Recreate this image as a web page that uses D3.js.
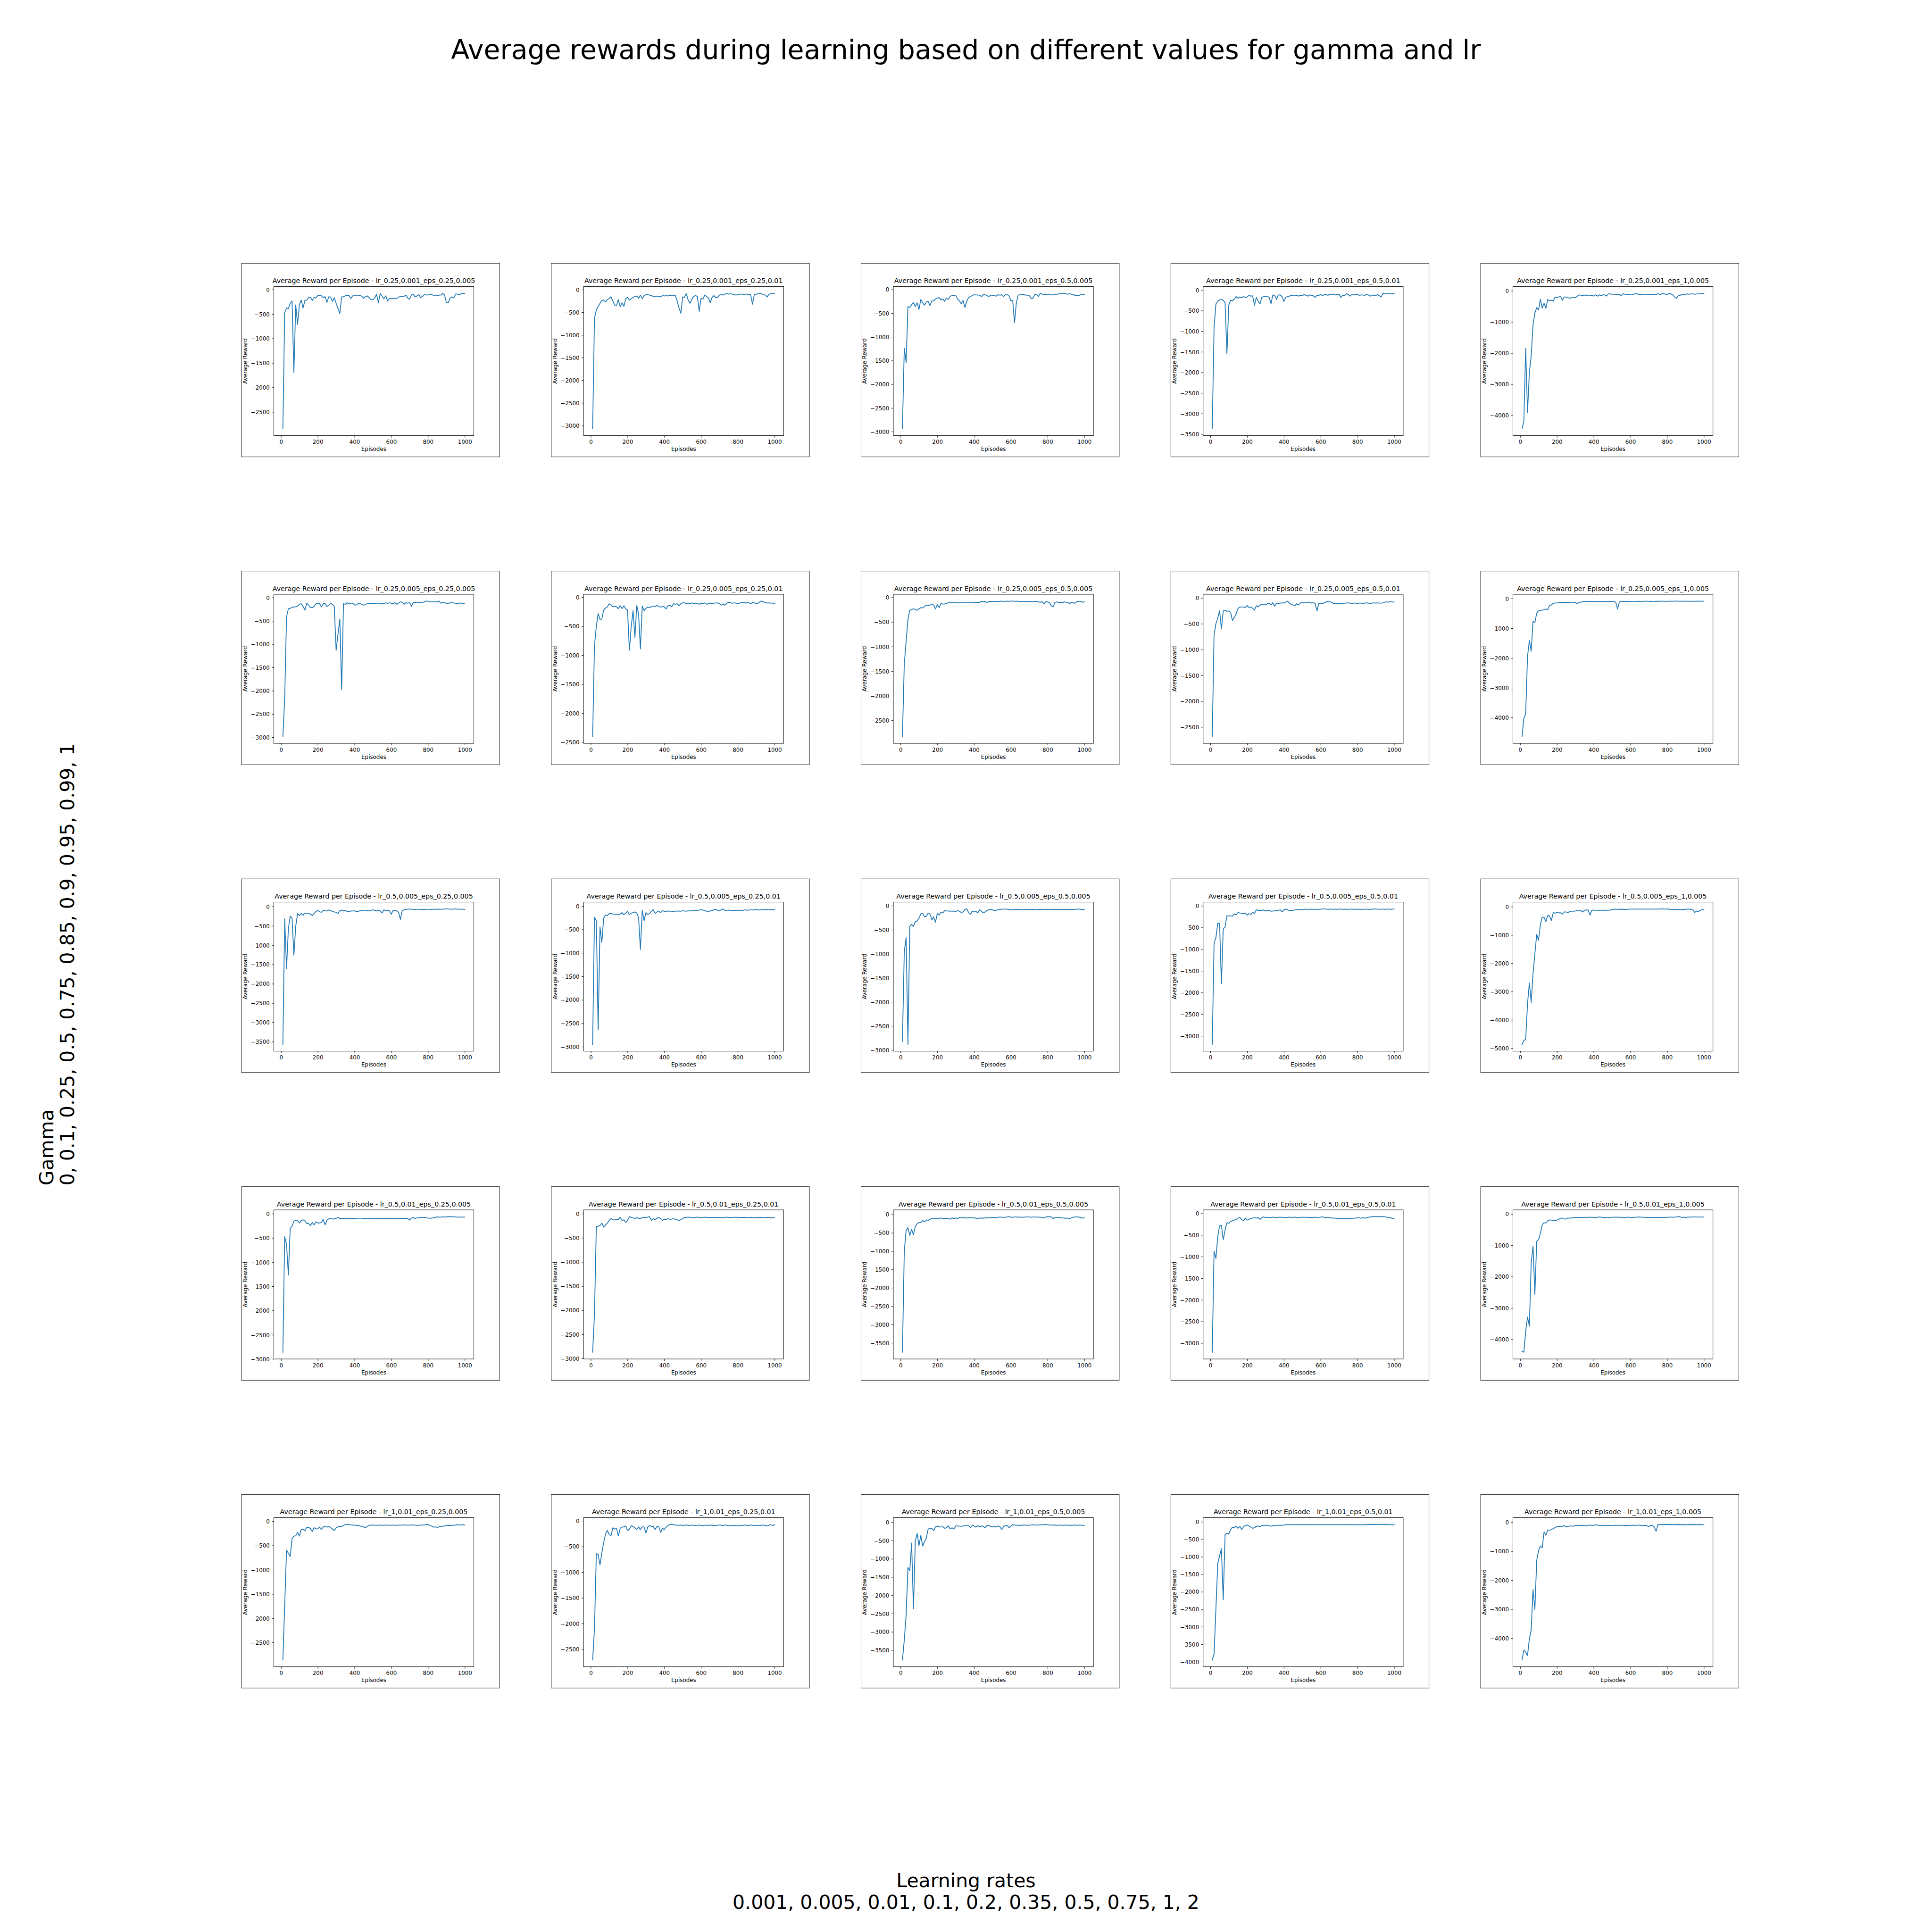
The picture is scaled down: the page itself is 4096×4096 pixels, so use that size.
<!DOCTYPE html>
<html><head><meta charset="utf-8">
<script src="https://cdn.jsdelivr.net/npm/d3@7"></script>
<style>html,body{margin:0;padding:0;background:#fff}svg{display:block}</style>
</head><body>
<svg id="chart" width="4096" height="4096"></svg>
<script>
// ---------- data ----------
const episodes = [10,20,30,40,50,60,70,80,90,100,110,120,130,140,150,160,170,180,190,200,
 210,220,230,240,250,260,270,280,290,300,310,320,330,340,350,360,370,380,390,400,
 410,420,430,440,450,460,470,480,490,500,510,520,530,540,550,560,570,580,590,600,
 610,620,630,640,650,660,670,680,690,700,710,720,730,740,750,760,770,780,790,800,
 810,820,830,840,850,860,870,880,890,900,910,920,930,940,950,960,970,980,990,1000];
const xTickValues = [0,200,400,600,800,1000];
const rowLr = ["0.25,0.001","0.25,0.005","0.5,0.005","0.5,0.01","1,0.01"];
const colEps = ["0.25,0.005","0.25,0.01","0.5,0.005","0.5,0.01","1,0.005"];
const yTickSteps = [[500,500,500,500,1000],[500,500,500,500,1000],[500,500,500,500,1000],[500,500,500,500,1000],[500,500,500,500,1000]];
const suptitle = "Average rewards during learning based on different values for gamma and lr";
const yLabelLines = ["Gamma","0, 0.1, 0.25, 0.5, 0.75, 0.85, 0.9, 0.95, 0.99, 1"];
const xLabelLines = ["Learning rates","0.001, 0.005, 0.01, 0.1, 0.2, 0.35, 0.5, 0.75, 1, 2"];

const rw00 = [-2845,-471,-377,-390,-280,-233,-1694,-312,-712,-306,
 -215,-377,-222,-215,-157,-157,-222,-162,-170,-123,
 -123,-128,-167,-144,-262,-147,-154,-241,-167,-280,
 -385,-490,-149,-149,-128,-115,-123,-181,-128,-128,
 -115,-115,-123,-136,-181,-136,-131,-167,-207,-207,
 -170,-97,-267,-79,-136,-188,-128,-233,-183,-188,
 -188,-175,-181,-154,-141,-136,-136,-115,-175,-196,
 -110,-97,-154,-128,-105,-162,-144,-102,-110,-110,
 -102,-102,-118,-113,-118,-115,-110,-76,-110,-267,
 -272,-175,-149,-170,-92,-92,-113,-84,-79,-84];
const rw01 = [-3070,-620,-450,-370,-300,-240,-230,-270,-220,-190,
 -160,-250,-340,-350,-220,-380,-290,-370,-200,-170,
 -230,-200,-170,-150,-140,-190,-120,-200,-130,-110,
 -110,-120,-130,-150,-160,-140,-150,-160,-130,-140,
 -130,-140,-120,-130,-120,-130,-250,-400,-520,-160,
 -170,-90,-230,-300,-210,-150,-130,-150,-480,-190,
 -210,-120,-150,-180,-290,-170,-130,-180,-170,-120,
 -110,-120,-100,-80,-100,-90,-100,-110,-120,-110,
 -100,-100,-110,-100,-100,-110,-110,-320,-110,-100,
 -90,-80,-90,-110,-120,-160,-100,-90,-80,-80];
const rw02 = [-2940,-1240,-1540,-360,-380,-320,-280,-360,-280,-420,
 -210,-280,-330,-260,-250,-340,-240,-240,-200,-180,
 -170,-220,-200,-250,-180,-210,-140,-130,-120,-120,
 -200,-240,-300,-230,-380,-250,-170,-150,-130,-110,
 -115,-115,-120,-150,-110,-110,-130,-150,-120,-120,
 -130,-140,-110,-120,-110,-150,-110,-110,-130,-240,
 -230,-700,-280,-120,-110,-110,-100,-120,-120,-120,
 -190,-190,-110,-100,-150,-80,-100,-100,-110,-110,
 -110,-115,-110,-100,-100,-90,-90,-80,-80,-90,
 -100,-90,-100,-100,-130,-130,-130,-110,-110,-110];
const rw03 = [-3370,-920,-340,-280,-240,-230,-250,-310,-1550,-370,
 -250,-260,-220,-160,-200,-170,-190,-160,-180,-170,
 -130,-150,-140,-370,-180,-270,-340,-180,-160,-150,
 -160,-180,-330,-120,-130,-230,-120,-120,-160,-280,
 -180,-160,-150,-130,-140,-140,-130,-150,-130,-140,
 -110,-130,-150,-120,-130,-140,-180,-130,-130,-110,
 -140,-110,-110,-130,-100,-110,-100,-120,-110,-100,
 -180,-130,-140,-90,-110,-150,-110,-120,-110,-100,
 -130,-120,-120,-130,-110,-120,-150,-120,-130,-140,
 -110,-140,-170,-80,-100,-80,-80,-80,-80,-90];
const rw04 = [-4430,-4180,-1850,-3910,-2620,-2100,-1090,-710,-540,-610,
 -270,-560,-400,-560,-280,-320,-300,-330,-200,-230,
 -200,-170,-300,-200,-200,-220,-240,-220,-220,-220,
 -180,-130,-140,-150,-140,-140,-160,-160,-150,-170,
 -130,-170,-130,-160,-130,-130,-170,-100,-100,-110,
 -110,-110,-120,-110,-160,-90,-110,-120,-120,-110,
 -110,-110,-80,-110,-120,-120,-110,-110,-110,-120,
 -120,-120,-120,-130,-90,-120,-100,-90,-110,-130,
 -80,-100,-130,-200,-240,-160,-150,-110,-130,-110,
 -100,-110,-100,-100,-110,-100,-100,-100,-90,-90];
const rw10 = [-2985,-2165,-410,-240,-230,-215,-200,-200,-180,-145,
 -130,-190,-270,-120,-160,-215,-215,-190,-130,-120,
 -130,-200,-130,-130,-190,-165,-120,-145,-190,-1130,
 -790,-460,-1970,-130,-145,-110,-140,-120,-120,-160,
 -160,-130,-130,-145,-165,-145,-130,-125,-130,-125,
 -130,-120,-120,-140,-120,-130,-110,-125,-110,-125,
 -130,-110,-145,-120,-90,-100,-145,-110,-120,-105,
 -190,-100,-105,-110,-105,-110,-105,-90,-75,-75,
 -95,-90,-90,-95,-85,-75,-120,-105,-110,-120,
 -130,-110,-110,-115,-120,-125,-120,-115,-125,-120];
const rw11 = [-2405,-830,-500,-280,-380,-375,-220,-185,-165,-110,
 -135,-165,-155,-165,-195,-145,-195,-145,-200,-220,
 -915,-500,-230,-695,-140,-290,-890,-150,-230,-190,
 -170,-180,-160,-150,-160,-140,-160,-170,-160,-165,
 -200,-145,-135,-165,-110,-120,-110,-145,-110,-95,
 -90,-110,-100,-110,-95,-110,-100,-105,-120,-100,
 -110,-95,-120,-110,-100,-110,-100,-100,-95,-110,
 -135,-115,-135,-100,-90,-90,-105,-95,-100,-110,
 -100,-90,-85,-100,-90,-95,-110,-90,-95,-110,
 -100,-80,-65,-80,-90,-100,-95,-100,-100,-110];
const rw12 = [-2830,-1350,-900,-445,-260,-250,-230,-250,-260,-230,
 -210,-215,-185,-155,-170,-155,-145,-155,-235,-145,
 -210,-120,-135,-135,-120,-110,-110,-110,-110,-110,
 -115,-105,-100,-100,-100,-100,-100,-100,-100,-100,
 -105,-100,-105,-80,-90,-80,-105,-85,-80,-85,
 -80,-80,-85,-80,-75,-80,-80,-75,-80,-75,
 -75,-80,-75,-80,-85,-80,-80,-85,-90,-80,
 -85,-90,-85,-80,-90,-100,-85,-130,-90,-90,
 -105,-170,-195,-105,-90,-105,-100,-115,-90,-100,
 -100,-130,-100,-115,-115,-85,-80,-80,-100,-90];
const rw13 = [-2685,-715,-500,-390,-250,-600,-250,-235,-260,-250,
 -275,-435,-375,-310,-205,-175,-175,-175,-185,-145,
 -185,-175,-200,-235,-150,-175,-135,-125,-125,-135,
 -110,-100,-135,-90,-160,-100,-105,-100,-95,-100,
 -80,-60,-100,-125,-135,-150,-110,-135,-95,-90,
 -95,-90,-95,-80,-100,-90,-110,-250,-110,-100,
 -110,-90,-75,-70,-75,-80,-110,-100,-105,-105,
 -100,-105,-100,-100,-95,-100,-105,-100,-100,-105,
 -100,-100,-105,-100,-95,-100,-105,-100,-95,-100,
 -95,-100,-100,-95,-80,-75,-80,-70,-80,-75];
const rw14 = [-4640,-4020,-3880,-1950,-1410,-1770,-760,-810,-490,-410,
 -400,-390,-380,-350,-380,-230,-215,-160,-150,-150,
 -140,-130,-130,-130,-135,-130,-130,-125,-125,-130,
 -170,-130,-120,-110,-100,-100,-95,-100,-105,-100,
 -100,-100,-105,-100,-100,-100,-105,-100,-95,-100,
 -100,-120,-350,-120,-100,-95,-100,-95,-100,-95,
 -95,-95,-95,-95,-90,-95,-95,-90,-90,-95,
 -90,-95,-95,-90,-95,-85,-90,-90,-95,-90,
 -90,-90,-90,-85,-85,-90,-90,-90,-90,-90,
 -90,-90,-95,-90,-90,-90,-85,-90,-90,-90];
const rw20 = [-3570,-320,-1610,-570,-250,-300,-1260,-510,-185,-235,
 -175,-225,-165,-185,-185,-190,-235,-185,-125,-100,
 -135,-150,-100,-110,-115,-90,-100,-135,-140,-150,
 -185,-110,-90,-110,-100,-125,-135,-115,-115,-110,
 -135,-125,-110,-100,-110,-115,-100,-115,-100,-85,
 -100,-115,-100,-115,-165,-85,-110,-100,-110,-200,
 -100,-105,-110,-150,-335,-100,-85,-75,-65,-65,
 -70,-70,-75,-70,-70,-75,-75,-70,-75,-70,
 -70,-75,-70,-70,-65,-70,-70,-65,-65,-60,
 -65,-65,-70,-65,-60,-65,-70,-70,-70,-75];
const rw21 = [-2950,-240,-310,-2640,-445,-775,-260,-190,-205,-160,
 -160,-170,-170,-180,-185,-170,-140,-185,-150,-110,
 -185,-150,-140,-125,-150,-240,-925,-95,-310,-140,
 -185,-160,-110,-80,-160,-125,-115,-140,-100,-110,
 -115,-105,-110,-110,-115,-105,-110,-105,-110,-100,
 -105,-110,-100,-105,-100,-95,-100,-95,-85,-80,
 -85,-95,-110,-115,-105,-95,-80,-70,-90,-105,
 -80,-60,-95,-90,-85,-95,-100,-90,-100,-95,
 -85,-95,-90,-80,-90,-85,-80,-85,-75,-80,
 -80,-85,-80,-75,-80,-75,-80,-80,-75,-80];
const rw22 = [-2820,-950,-665,-2885,-430,-385,-430,-330,-315,-260,
 -170,-155,-230,-220,-155,-170,-295,-230,-345,-155,
 -195,-135,-150,-100,-110,-110,-115,-110,-115,-120,
 -100,-115,-140,-130,-75,-65,-140,-180,-110,-130,
 -115,-150,-85,-115,-150,-130,-100,-85,-80,-85,
 -100,-95,-85,-80,-70,-70,-70,-70,-80,-80,
 -85,-80,-75,-80,-80,-85,-80,-80,-75,-80,
 -80,-75,-85,-80,-80,-75,-80,-75,-75,-80,
 -75,-75,-80,-75,-80,-80,-75,-80,-75,-80,
 -80,-75,-80,-75,-75,-70,-70,-75,-80,-75];
const rw23 = [-3195,-870,-735,-400,-410,-1795,-530,-490,-230,-230,
 -230,-240,-185,-210,-155,-165,-170,-180,-165,-215,
 -180,-200,-150,-180,-90,-105,-105,-110,-95,-120,
 -105,-105,-125,-120,-120,-105,-110,-90,-140,-90,
 -75,-95,-110,-110,-105,-95,-90,-90,-80,-80,
 -80,-75,-80,-80,-75,-80,-80,-75,-80,-75,
 -75,-70,-75,-80,-75,-75,-80,-75,-80,-75,
 -75,-80,-75,-80,-80,-75,-75,-80,-75,-80,
 -75,-80,-80,-75,-75,-80,-75,-80,-70,-75,
 -75,-80,-75,-75,-80,-75,-75,-80,-75,-75];
const rw24 = [-4865,-4725,-4690,-3435,-2695,-3380,-2350,-1665,-980,-1185,
 -640,-365,-375,-525,-310,-320,-490,-205,-230,-195,
 -215,-215,-260,-185,-185,-215,-160,-160,-160,-150,
 -135,-150,-135,-185,-125,-115,-115,-295,-125,-115,
 -125,-125,-120,-125,-125,-120,-125,-120,-120,-105,
 -105,-80,-90,-90,-90,-90,-90,-105,-85,-85,
 -85,-85,-85,-85,-85,-85,-85,-85,-85,-85,
 -85,-85,-85,-80,-85,-80,-75,-80,-85,-80,
 -85,-90,-95,-100,-95,-100,-100,-105,-95,-90,
 -85,-85,-90,-100,-205,-150,-170,-125,-110,-105];
const rw30 = [-2860,-475,-630,-1265,-300,-260,-150,-140,-145,-190,
 -140,-125,-145,-200,-200,-245,-180,-230,-165,-190,
 -190,-180,-115,-230,-130,-105,-100,-110,-100,-95,
 -75,-100,-95,-100,-100,-95,-100,-100,-95,-100,
 -100,-105,-105,-105,-100,-100,-100,-100,-100,-100,
 -100,-100,-100,-100,-100,-95,-100,-100,-95,-100,
 -100,-100,-95,-100,-100,-100,-95,-95,-100,-130,
 -90,-75,-100,-85,-85,-75,-80,-75,-85,-90,
 -95,-90,-85,-75,-65,-70,-70,-65,-70,-65,
 -60,-60,-65,-65,-65,-70,-70,-70,-70,-70];
const rw31 = [-2870,-2075,-260,-260,-245,-195,-275,-235,-195,-140,
 -100,-125,-125,-115,-115,-75,-140,-125,-180,-140,
 -60,-75,-85,-100,-75,-100,-100,-80,-75,-80,
 -70,-60,-140,-100,-125,-95,-75,-100,-140,-115,
 -125,-100,-115,-110,-100,-115,-125,-140,-125,-100,
 -75,-75,-70,-75,-85,-80,-75,-70,-75,-80,
 -75,-70,-75,-80,-75,-80,-75,-80,-80,-75,
 -75,-80,-75,-70,-75,-80,-75,-75,-70,-75,
 -80,-75,-80,-75,-80,-85,-75,-80,-85,-80,
 -80,-75,-80,-85,-80,-75,-80,-85,-80,-85];
const rw32 = [-3755,-1005,-435,-360,-570,-410,-550,-325,-255,-220,
 -220,-165,-200,-150,-160,-130,-115,-115,-115,-115,
 -105,-95,-115,-115,-105,-115,-130,-95,-115,-95,
 -115,-80,-95,-90,-85,-100,-90,-95,-90,-95,
 -100,-115,-95,-100,-100,-95,-90,-95,-90,-80,
 -85,-80,-80,-70,-75,-80,-75,-70,-60,-75,
 -75,-70,-70,-75,-70,-75,-75,-70,-70,-70,
 -75,-70,-70,-75,-70,-75,-80,-100,-70,-60,
 -60,-65,-115,-80,-80,-90,-85,-95,-100,-105,
 -100,-115,-90,-75,-70,-65,-70,-85,-100,-90];
const rw33 = [-3210,-870,-1040,-535,-290,-275,-610,-385,-215,-230,
 -185,-170,-155,-140,-110,-95,-140,-170,-110,-155,
 -140,-110,-110,-95,-110,-95,-140,-95,-80,-95,
 -90,-90,-95,-85,-90,-95,-90,-85,-90,-90,
 -95,-90,-85,-90,-90,-85,-90,-95,-90,-85,
 -90,-85,-90,-95,-90,-95,-85,-90,-90,-85,
 -80,-90,-100,-95,-100,-110,-105,-110,-115,-125,
 -115,-110,-115,-120,-115,-110,-115,-110,-110,-100,
 -105,-110,-100,-110,-100,-85,-85,-75,-75,-75,
 -75,-75,-75,-75,-80,-85,-95,-100,-115,-125];
const rw34 = [-4380,-4410,-3740,-3290,-3580,-1555,-1030,-2565,-875,-815,
 -620,-340,-280,-290,-215,-195,-195,-205,-215,-195,
 -175,-135,-135,-155,-165,-125,-135,-125,-120,-115,
 -110,-110,-115,-110,-105,-110,-105,-100,-110,-115,
 -110,-105,-95,-100,-110,-110,-115,-115,-110,-105,
 -105,-100,-105,-100,-110,-105,-115,-100,-105,-110,
 -105,-110,-100,-100,-95,-100,-105,-110,-120,-115,
 -110,-110,-105,-110,-105,-110,-105,-110,-110,-105,
 -100,-100,-105,-100,-95,-85,-90,-110,-100,-115,
 -100,-100,-95,-95,-95,-95,-100,-95,-95,-100];
const rw40 = [-2860,-1730,-595,-660,-725,-355,-305,-300,-230,-305,
 -165,-165,-195,-125,-125,-150,-210,-130,-160,-155,
 -120,-170,-115,-110,-120,-105,-130,-160,-190,-135,
 -115,-105,-105,-85,-70,-65,-70,-75,-80,-80,
 -85,-85,-100,-100,-115,-135,-100,-85,-80,-80,
 -80,-85,-80,-80,-85,-80,-80,-80,-85,-80,
 -80,-80,-85,-80,-80,-80,-75,-80,-80,-80,
 -75,-80,-80,-85,-80,-80,-80,-75,-70,-65,
 -85,-100,-120,-115,-125,-115,-110,-100,-95,-85,
 -90,-85,-85,-80,-80,-70,-75,-80,-70,-80];
const rw41 = [-2710,-2100,-640,-655,-860,-620,-420,-260,-185,-270,
 -285,-135,-160,-150,-295,-145,-120,-120,-100,-190,
 -160,-95,-110,-135,-170,-120,-170,-115,-120,-235,
 -120,-90,-110,-110,-170,-110,-115,-225,-145,-170,
 -120,-90,-70,-70,-75,-80,-85,-85,-80,-90,
 -85,-80,-85,-90,-80,-85,-90,-85,-80,-90,
 -95,-85,-85,-90,-80,-85,-95,-90,-85,-80,
 -85,-90,-80,-85,-95,-100,-90,-85,-95,-100,
 -95,-90,-85,-80,-85,-90,-80,-85,-90,-85,
 -90,-95,-85,-80,-90,-100,-85,-75,-90,-75];
const rw42 = [-3770,-3225,-2555,-1240,-1325,-570,-2365,-515,-305,-640,
 -360,-650,-535,-430,-185,-170,-170,-230,-130,-105,
 -125,-130,-125,-165,-150,-100,-185,-150,-185,-100,
 -100,-105,-110,-105,-90,-100,-90,-150,-80,-105,
 -135,-90,-130,-100,-115,-150,-90,-85,-115,-130,
 -115,-130,-100,-120,-205,-115,-95,-90,-150,-105,
 -65,-75,-85,-80,-90,-80,-75,-80,-85,-80,
 -75,-70,-75,-80,-75,-70,-75,-65,-60,-70,
 -75,-80,-80,-75,-85,-80,-80,-85,-80,-75,
 -85,-80,-85,-80,-75,-85,-80,-80,-85,-85];
const rw43 = [-3950,-3785,-2500,-1195,-980,-770,-2225,-370,-330,-350,
 -220,-155,-175,-120,-185,-130,-220,-140,-105,-90,
 -120,-150,-185,-170,-130,-120,-140,-110,-95,-100,
 -100,-115,-125,-110,-115,-100,-100,-95,-100,-95,
 -80,-80,-85,-80,-80,-85,-80,-80,-85,-80,
 -85,-80,-85,-80,-80,-85,-80,-85,-80,-80,
 -85,-80,-80,-85,-80,-80,-80,-85,-80,-80,
 -80,-85,-80,-80,-85,-80,-80,-85,-80,-85,
 -80,-85,-80,-80,-80,-75,-80,-80,-75,-80,
 -80,-75,-75,-80,-75,-80,-80,-85,-85,-85];
const rw44 = [-4755,-4415,-4490,-4600,-4025,-3720,-2325,-3010,-1320,-985,
 -820,-885,-335,-450,-265,-275,-255,-220,-185,-155,
 -140,-145,-140,-110,-165,-140,-130,-130,-135,-110,
 -120,-105,-110,-110,-110,-130,-100,-100,-105,-105,
 -85,-100,-105,-105,-110,-105,-105,-110,-105,-105,
 -105,-100,-105,-105,-100,-105,-110,-105,-110,-105,
 -100,-105,-105,-100,-100,-120,-115,-105,-120,-155,
 -110,-105,-165,-310,-75,-85,-80,-80,-75,-80,
 -80,-80,-85,-80,-80,-80,-80,-85,-80,-85,
 -85,-80,-85,-80,-80,-85,-80,-80,-85,-85];

const seriesGrid = [
  [rw00, rw01, rw02, rw03, rw04],
  [rw10, rw11, rw12, rw13, rw14],
  [rw20, rw21, rw22, rw23, rw24],
  [rw30, rw31, rw32, rw33, rw34],
  [rw40, rw41, rw42, rw43, rw44]
];

// ---------- layout (reference pixel space 5000x5000, scaled to window) ----------
const FONT = "DejaVu Sans";
const S = 4096 / 5000;
const svg = d3.select("#chart");
const root = svg.append("g").attr("transform", `scale(${S})`);
root.append("rect").attr("width", 5000).attr("height", 5000).attr("fill", "#fff");

const figL = 625, figR = 4500, figT = 600, figB = 4450;
const cellW = (figR - figL) / 5.8, cellH = (figB - figT) / 5.8;
const imgW = cellW, imgH = cellW * 480 / 640;
const inner = imgW / 640;

// super title and figure labels
root.append("text").attr("x", 2500).attr("y", 152)
  .attr("text-anchor", "middle").attr("font-family", FONT).attr("font-size", 69.4)
  .attr("fill", "#000").text(suptitle);
xLabelLines.forEach((t, i) => {
  root.append("text").attr("x", 2500).attr("y", 4884 + i * 56)
    .attr("text-anchor", "middle").attr("font-family", FONT).attr("font-size", 50)
    .attr("fill", "#000").text(t);
});
yLabelLines.forEach((t, i) => {
  const bx = 138 + i * 54, by = 3068;
  root.append("text").attr("transform", `translate(${bx},${by}) rotate(-90)`)
    .attr("text-anchor", "start").attr("font-family", FONT).attr("font-size", 50)
    .attr("fill", "#000").text(t);
});

const fmt = d => d < 0 ? "\u2212" + Math.abs(d) : String(d);
const AL = 80, AR = 576, AT = 57.6, AB = 427.2;

for (let r = 0; r < 5; r++) {
  for (let c = 0; c < 5; c++) {
    const data = seriesGrid[r][c];
    const x0 = figL + c * cellW * 1.2;
    const y0 = figT + r * cellH * 1.2 + (cellH - imgH) / 2;
    const g = root.append("g").attr("transform", `translate(${x0},${y0})`);
    g.append("rect").attr("width", imgW).attr("height", imgH)
      .attr("fill", "#fff").attr("stroke", "#000").attr("stroke-width", 1.11);
    const ig = g.append("g").attr("transform", `scale(${inner})`);

    const xe = d3.extent(episodes), ye = d3.extent(data);
    const xm = 0.05 * (xe[1] - xe[0]), ym = 0.05 * (ye[1] - ye[0]);
    const x = d3.scaleLinear().domain([xe[0] - xm, xe[1] + xm]).range([AL, AR]);
    const y = d3.scaleLinear().domain([ye[0] - ym, ye[1] + ym]).range([AB, AT]);

    const step = yTickSteps[r][c];
    const yTicks = d3.range(0, y.domain()[0] - 1, -step).filter(v => v >= y.domain()[0] && v <= y.domain()[1]);

    // line
    ig.append("path").datum(data)
      .attr("fill", "none").attr("stroke", "#1f77b4").attr("stroke-width", 2.083)
      .attr("stroke-linejoin", "round").attr("stroke-linecap", "square")
      .attr("d", d3.line().x((d, i) => x(episodes[i])).y(d => y(d)));

    // axes
    const gx = ig.append("g").attr("transform", `translate(0,${AB})`)
      .call(d3.axisBottom(x).tickValues(xTickValues).tickSize(4.86).tickFormat(fmt));
    gx.select(".domain").remove();
    gx.attr("font-family", FONT).attr("font-size", 13.89);
    gx.selectAll("line").attr("stroke", "#000").attr("stroke-width", 1.11);
    gx.selectAll("text").attr("y", 20.7).attr("dy", null).attr("fill", "#000");

    const gy = ig.append("g").attr("transform", `translate(${AL},0)`)
      .call(d3.axisLeft(y).tickValues(yTicks).tickSize(4.86).tickFormat(fmt));
    gy.select(".domain").remove();
    gy.attr("font-family", FONT).attr("font-size", 13.89);
    gy.selectAll("line").attr("stroke", "#000").attr("stroke-width", 1.11);
    gy.selectAll("text").attr("x", -10).attr("dy", "0.36em").attr("fill", "#000");

    // spines
    ig.append("rect").attr("x", AL).attr("y", AT).attr("width", AR - AL).attr("height", AB - AT)
      .attr("fill", "none").attr("stroke", "#000").attr("stroke-width", 1.11);

    // texts
    ig.append("text").attr("x", (AL + AR) / 2).attr("y", 49.3)
      .attr("text-anchor", "middle").attr("font-family", FONT).attr("font-size", 16.67)
      .attr("fill", "#000")
      .text(`Average Reward per Episode - lr_${rowLr[r]}_eps_${colEps[c]}`);
    ig.append("text").attr("x", (AL + AR) / 2).attr("y", 465.5)
      .attr("text-anchor", "middle").attr("font-family", FONT).attr("font-size", 13.89)
      .attr("fill", "#000").text("Episodes");
    ig.append("text").attr("transform", `translate(13.8,${(AT + AB) / 2}) rotate(-90)`)
      .attr("text-anchor", "middle").attr("font-family", FONT).attr("font-size", 13.89)
      .attr("fill", "#000").text("Average Reward");
  }
}
</script>
</body></html>
